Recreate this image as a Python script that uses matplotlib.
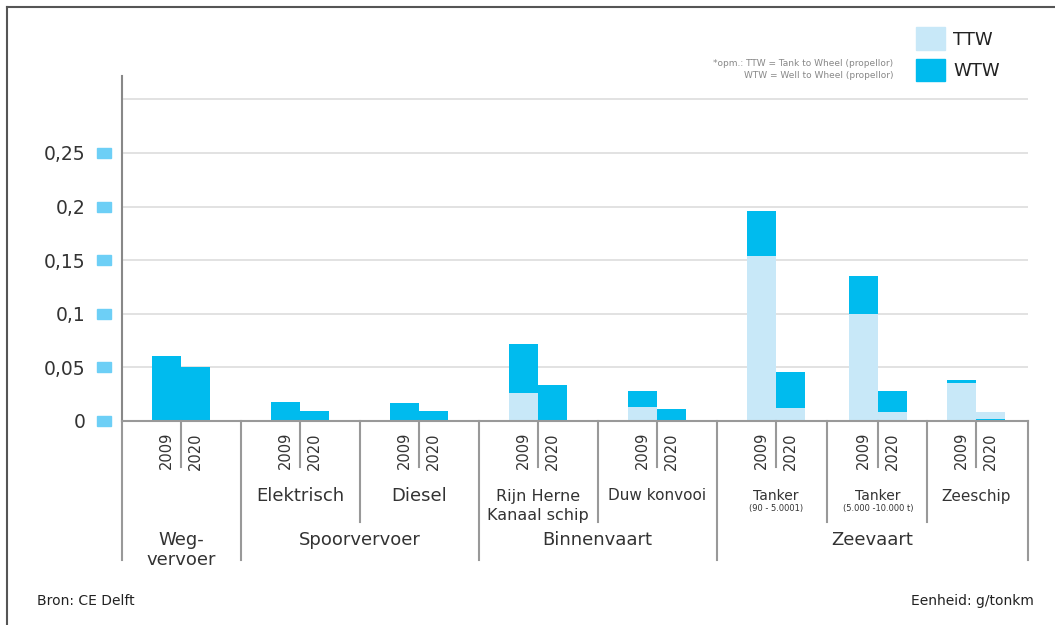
import numpy as np
import matplotlib
matplotlib.use("Agg")
import matplotlib.pyplot as plt
import matplotlib.transforms as mtransforms
from matplotlib.patches import Rectangle
from matplotlib.lines import Line2D

# Gegevens (g/tonkm)
groepen = ['Weg-\nvervoer', 'Spoorvervoer', 'Binnenvaart', 'Zeevaart']
subgroepen = ['', 'Elektrisch', 'Diesel', 'Rijn Herne\nKanaal schip', 'Duw konvooi',
              'Tanker', 'Tanker', 'Zeeschip']
subgroep_noot = ['', '', '', '', '', '(90 - 5.0001)', '(5.000 -10.000 t)', '']
groep_van_sub = [0, 1, 1, 2, 2, 3, 3, 3]
jaren = ['2009', '2020']

ttw_2009 = [0.0, 0.0, 0.0, 0.026, 0.013, 0.154, 0.100, 0.035]
wtw_2009 = [0.061, 0.018, 0.017, 0.072, 0.028, 0.196, 0.135, 0.038]
ttw_2020 = [0.0, 0.0, 0.0, 0.0, 0.0, 0.012, 0.008, 0.008]
wtw_2020 = [0.050, 0.009, 0.009, 0.034, 0.011, 0.046, 0.028, 0.002]

y_ticks = [0, 0.05, 0.1, 0.15, 0.2, 0.25, 0.3]
y_labels = ['0', '0,05', '0,1', '0,15', '0,2', '0,25', '']

# Opmaak
W, H = 1055, 625
licht = '#C8E8F8'
donker = '#00BBEE'
blokje = '#6DCFF6'
lijn = '#999999'
tekst = '#333333'

# posities in pixels vanaf linkeras
centra = np.array([59, 178, 297, 416, 535, 654, 756, 854])
breedte = 29
x_max = 906

fig = plt.figure(figsize=(W / 100, H / 100), dpi=100)
ax = fig.add_axes([122 / W, (H - 421) / H, x_max / W, 345 / H])
ax.set_xlim(0, x_max)
ax.set_ylim(0, 345 / 1072)


def ay(ypix):
    return (421 - ypix) / 345


def fx(xpix):
    return xpix / W


def fy(ypix):
    return (H - ypix) / H


# staven
for j, (ttw, wtw) in enumerate([(ttw_2009, wtw_2009), (ttw_2020, wtw_2020)]):
    ttw = np.array(ttw)
    wtw = np.array(wtw)
    x = centra + (j - 0.5) * breedte
    ax.bar(x, ttw, width=breedte, color=licht, linewidth=0)
    boven = wtw > ttw
    bodem = np.where(boven, ttw, 0)
    hoogte = np.where(boven, wtw - ttw, wtw)
    ax.bar(x, hoogte, bottom=bodem, width=breedte, color=donker, linewidth=0)

# assen
ax.set_yticks(y_ticks)
ax.set_yticklabels(y_labels)
ax.tick_params(axis='y', length=0, pad=26.5, labelsize=13.5, labelcolor=tekst)
ax.set_xticks([])
ax.yaxis.grid(True, color='#dddddd', linewidth=1.2)
ax.set_axisbelow(True)
for s in ['top', 'right']:
    ax.spines[s].set_visible(False)
ax.spines['left'].set_color('#888888')
ax.spines['left'].set_linewidth(1.5)
ax.spines['bottom'].set_color(lijn)
ax.spines['bottom'].set_linewidth(1.5)
ax.spines['bottom'].set_zorder(3)

# blauwe blokjes bij de tickwaarden
trans_ya = mtransforms.blended_transform_factory(ax.transAxes, ax.transData)
for v in y_ticks[:-1]:
    ax.add_patch(Rectangle((-25 / x_max, v - 5 / 1072), 14 / x_max, 10 / 1072,
                           transform=trans_ya, color=blokje, clip_on=False))

# tabel onder de as
trans = mtransforms.blended_transform_factory(ax.transData, ax.transAxes)
grenzen = [0] + list((centra[:-1] + centra[1:]) / 2) + [x_max]


def vlijn(x, ypix_end):
    ax.add_line(Line2D([x, x], [0, ay(ypix_end)], transform=trans, color=lijn,
                       linewidth=1.5, clip_on=False))


for c in centra:
    vlijn(c, 467)
for i, b in enumerate(grenzen):
    if i == 0 or i == len(grenzen) - 1 or groep_van_sub[i - 1] != groep_van_sub[i]:
        vlijn(b, 560)
    else:
        vlijn(b, 522)

for c in centra:
    for j, jaar in enumerate(jaren):
        ax.text(c + (j - 0.5) * breedte, ay(432), jaar, transform=trans,
                rotation=90, ha='center', va='top', fontsize=10.5, color=tekst)

groot = {'Elektrisch': 13, 'Diesel': 13}
for i, naam in enumerate(subgroepen):
    if not naam:
        continue
    fs = groot.get(naam, 11)
    if naam == 'Tanker':
        fs = 10
    if '\n' in naam:
        ax.text(centra[i], ay(506), naam, transform=trans, ha='center', va='center',
                fontsize=11.5, linespacing=1.3, color=tekst)
    else:
        ax.text(centra[i], ay(496), naam, transform=trans, ha='center', va='center',
                fontsize=fs, color=tekst)
    if subgroep_noot[i]:
        ax.text(centra[i], ay(508), subgroep_noot[i], transform=trans, ha='center',
                va='center', fontsize=6, color=tekst)

for g, naam in enumerate(groepen):
    subs = [i for i, gg in enumerate(groep_van_sub) if gg == g]
    xm = (grenzen[subs[0]] + grenzen[subs[-1] + 1]) / 2
    ym = 550 if '\n' in naam else 540
    ax.text(xm, ay(ym), naam, transform=trans, ha='center', va='center',
            fontsize=13, linespacing=1.1, color=tekst)

# legenda
fig.patches.append(Rectangle((fx(916), fy(50)), 29 / W, 23 / H, transform=fig.transFigure,
                             color=licht))
fig.patches.append(Rectangle((fx(916), fy(81)), 29 / W, 22 / H, transform=fig.transFigure,
                             color=donker))
fig.text(fx(953), fy(40), 'TTW', ha='left', va='center', fontsize=13, color='#222222')
fig.text(fx(953), fy(71), 'WTW', ha='left', va='center', fontsize=13, color='#222222')
fig.text(fx(893), fy(64), '*opm.: TTW = Tank to Wheel (propellor)', ha='right',
         va='center', fontsize=6.5, color='#888888')
fig.text(fx(893), fy(76), 'WTW = Well to Wheel (propellor)', ha='right',
         va='center', fontsize=6.5, color='#888888')

# bron en eenheid
fig.text(fx(37), fy(601), 'Bron: CE Delft', ha='left', va='center', fontsize=10,
         color='#222222')
fig.text(fx(1034), fy(601), 'Eenheid: g/tonkm', ha='right', va='center', fontsize=10,
         color='#222222')

# kader
fig.add_artist(Line2D([fx(7), fx(W)], [fy(7), fy(7)], transform=fig.transFigure,
                      color='#555555', linewidth=1.5))
fig.add_artist(Line2D([fx(7), fx(7)], [fy(7), fy(H)], transform=fig.transFigure,
                      color='#555555', linewidth=1.5))

fig.savefig('out.png', dpi=100)
